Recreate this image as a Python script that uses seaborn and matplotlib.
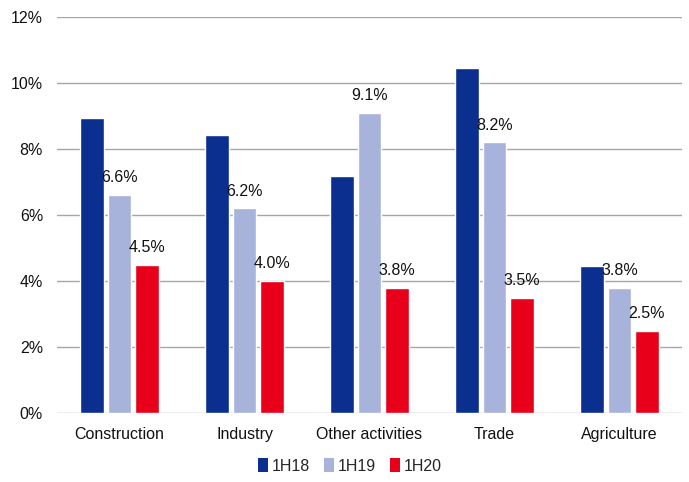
import matplotlib
matplotlib.use("Agg")
import matplotlib.pyplot as plt
import seaborn as sns
import pandas as pd
from matplotlib.patches import Patch

categories = ["Construction", "Industry", "Other activities", "Trade", "Agriculture"]
series = ["1H18", "1H19", "1H20"]
v_1h18 = [8.95, 8.43, 7.19, 10.46, 4.45]
v_1h19 = [6.6, 6.2, 9.1, 8.2, 3.8]
v_1h20 = [4.5, 4.0, 3.8, 3.5, 2.5]
labeled_series = ["1H19", "1H20"]
yticks = [0, 2, 4, 6, 8, 10, 12]
colors = ["#0b2f8e", "#a7b3da", "#e8001b"]

rows = []
for s, vals in zip(series, [v_1h18, v_1h19, v_1h20]):
    for c, v in zip(categories, vals):
        rows.append({"category": c, "series": s, "value": v})
df = pd.DataFrame(rows)

sns.set_theme(style="white")
plt.rcParams["font.family"] = ["Liberation Sans", "DejaVu Sans"]

fig = plt.figure(figsize=(6.89, 4.82), dpi=100)
ax = fig.add_axes([57/689, 1-413/482, 625/689, 396/482])

sns.barplot(data=df, x="category", y="value", hue="series", order=categories,
            hue_order=series, palette=colors, width=0.655, gap=0.14,
            saturation=1, ax=ax, legend=False, zorder=3)

for i, cont in enumerate(ax.containers):
    if series[i] in labeled_series:
        ax.bar_label(cont, labels=[f"{v:.1f}%" for v in cont.datavalues],
                     padding=7, fontsize=11.5, color="#111111")

ax.set_ylim(0, 12)
ax.set_xlim(-0.5, 4.5)
ax.set_yticks(yticks)
ax.set_yticklabels([f"{t}%" for t in yticks])
ax.grid(axis="y", color="#a6a6a6", linewidth=1, zorder=0)
ax.grid(axis="x", visible=False)
for sp in ax.spines.values():
    sp.set_visible(False)
ax.tick_params(axis="y", length=0, pad=10, labelsize=11.5, labelcolor="#111111")
ax.tick_params(axis="x", length=0, pad=10, labelsize=11.5, labelcolor="#111111")
ax.set_xlabel("")
ax.set_ylabel("")

handles = [Patch(facecolor=c, edgecolor="none", label=s) for c, s in zip(colors, series)]
fig.legend(handles=handles, loc="center", bbox_to_anchor=(350/689, 1-466/482),
           ncol=3, frameon=False, fontsize=11.5, handlelength=0.6, handleheight=0.9,
           handletextpad=0.25, columnspacing=0.9)

fig.savefig("out.png", dpi=100)
